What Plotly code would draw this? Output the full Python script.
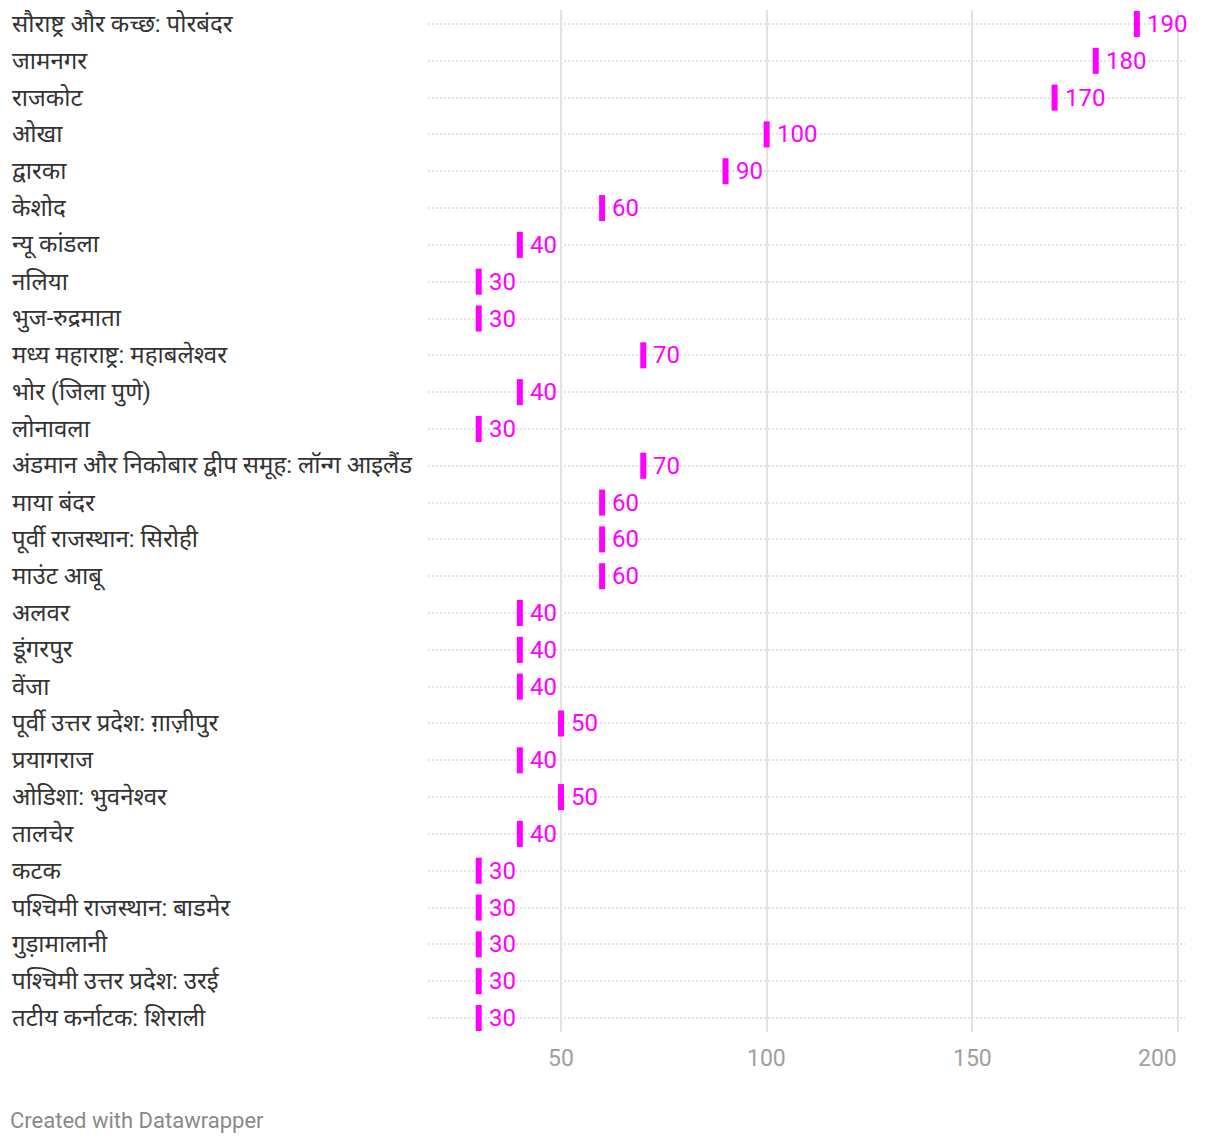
import plotly.graph_objects as go

categories = [
    "सौराष्ट्र और कच्छ: पोरबंदर", "जामनगर", "राजकोट", "ओखा", "द्वारका", "केशोद",
    "न्यू कांडला", "नलिया", "भुज-रुद्रमाता", "मध्य महाराष्ट्र: महाबलेश्वर",
    "भोर (जिला पुणे)", "लोनावला", "अंडमान और निकोबार द्वीप समूह: लॉन्ग आइलैंड",
    "माया बंदर", "पूर्वी राजस्थान: सिरोही", "माउंट आबू", "अलवर", "डूंगरपुर", "वेंजा",
    "पूर्वी उत्तर प्रदेश: ग़ाज़ीपुर", "प्रयागराज", "ओडिशा: भुवनेश्वर", "तालचेर", "कटक",
    "पश्चिमी राजस्थान: बाडमेर", "गुड़ामालानी", "पश्चिमी उत्तर प्रदेश: उरई",
    "तटीय कर्नाटक: शिराली",
]
values = [190, 180, 170, 100, 90, 60, 40, 30, 30, 70, 40, 30, 70, 60, 60, 60,
          40, 40, 40, 50, 40, 50, 40, 30, 30, 30, 30, 30]
x_ticks = [50, 100, 150, 200]

MAGENTA = "#ff00ff"
FONT = "Roboto, 'Noto Sans', sans-serif"

# page offset (body margin) of 8px
W, H = 1204, 1128
L, T = 420, 2
R = W - 1177
B = H - 1024
pw, ph = W - L - R, H - T - B

fig = go.Figure()
fig.add_trace(go.Scatter(
    x=values, y=categories, mode="markers",
    marker=dict(symbol="line-ns", size=18.6, color=MAGENTA,
                line=dict(color=MAGENTA, width=6)),
    hoverinfo="x+y", showlegend=False, cliponaxis=False,
))

annotations = []
for c, v in zip(categories, values):
    annotations.append(dict(x=v, y=c, xref="x", yref="y", text=str(v),
                            showarrow=False, xanchor="left", xshift=8,
                            font=dict(family=FONT, size=24, color=MAGENTA)))
    annotations.append(dict(x=(2 - L) / pw, y=c, xref="paper", yref="y", text=c,
                            showarrow=False, xanchor="left",
                            font=dict(family=FONT, size=24, color="#333333")))
for i, t in enumerate(x_ticks):
    last = i == len(x_ticks) - 1
    annotations.append(dict(x=t, y=-(1050 - (H - B)) / ph, xref="x", yref="paper",
                            text=str(t), showarrow=False,
                            xanchor="right" if last else "center", yanchor="middle",
                            xshift=1 if last else 0,
                            font=dict(family=FONT, size=23, color="#a0a0a0")))
annotations.append(dict(x=(0 - L) / pw, y=-(1112 - (H - B)) / ph, xref="paper", yref="paper",
                        text="Created with Datawrapper",
                        showarrow=False, xanchor="left", yanchor="middle",
                        font=dict(family=FONT, size=22, color="#8a8a8a")))

fig.update_layout(
    width=W, height=H,
    margin=dict(l=L, r=R, t=T, b=B, pad=0),
    paper_bgcolor="white", plot_bgcolor="white",
    font=dict(family=FONT),
    annotations=annotations,
    xaxis=dict(range=[17.67, 201.7], tickvals=x_ticks, showgrid=True,
               gridcolor="#e2e2e2", gridwidth=1.5, zeroline=False, showline=False,
               ticks="", showticklabels=False),
    yaxis=dict(type="category", categoryorder="array", categoryarray=categories,
               range=[27.38, -0.38], showticklabels=False, showgrid=True,
               gridcolor="#e3e3e3", gridwidth=1.5, griddash="2px,2px",
               zeroline=False, showline=False, ticks=""),
)

fig.write_html("out.html")
